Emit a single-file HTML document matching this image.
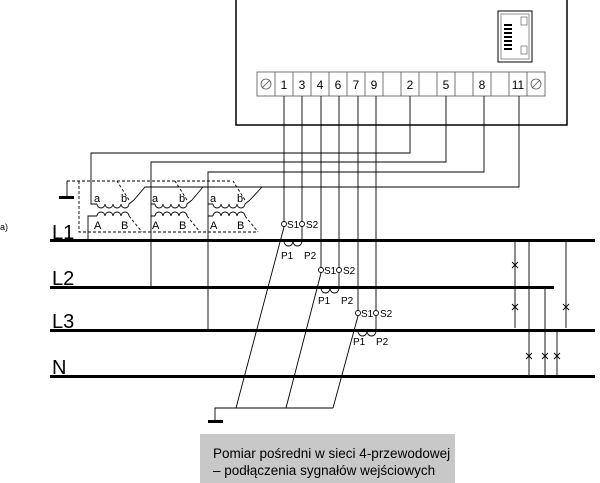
<!DOCTYPE html>
<html><head><meta charset="utf-8"><style>
html,body{margin:0;padding:0;background:#fff}
svg{display:block}
text{font-family:"Liberation Sans",sans-serif;fill:#000}
</style></head><body>
<svg width="600" height="483" viewBox="0 0 600 483" xmlns="http://www.w3.org/2000/svg">
<g stroke="#000" fill="none">
<path d="M236 0 V125 H567 V0" stroke-width="1.5"/>
<rect x="498" y="11" width="34" height="51" stroke-width="1"/>
<rect x="501" y="14" width="28" height="45" stroke-width="0.7" stroke="#666"/>
<rect x="521" y="17" width="6" height="8" stroke-width="0.7" stroke="#666"/>
<rect x="521" y="46" width="6" height="8" stroke-width="0.7" stroke="#666"/>
</g>
<g fill="#000">
<rect x="504" y="24" width="8" height="2"/><rect x="504" y="28" width="8" height="2"/><rect x="504" y="32" width="8" height="2"/><rect x="504" y="36" width="8" height="2"/><rect x="504" y="40" width="8" height="2"/><rect x="504" y="44" width="8" height="2"/><rect x="504" y="48" width="8" height="2"/>
</g>
<g stroke="#555" fill="#fff" stroke-width="0.8">
<rect x="257" y="72" width="288" height="24"/>
<path d="M275 72V96M293 72V96M311 72V96M329 72V96M347 72V96M365 72V96M383 72V96M401 72V96M419 72V96M437 72V96M455 72V96M473 72V96M491 72V96M509 72V96M527 72V96"/>
<circle cx="266" cy="84" r="5" fill="none"/><path d="M262 88L270 80"/>
<circle cx="536" cy="84" r="5" fill="none"/><path d="M532 88L540 80"/>
</g>
<g font-size="12" text-anchor="middle" fill="#222">
<text x="284" y="89">1</text><text x="302" y="89">3</text><text x="320" y="89">4</text><text x="338" y="89">6</text><text x="356" y="89">7</text><text x="374" y="89">9</text><text x="410" y="89">2</text><text x="446" y="89">5</text><text x="482" y="89">8</text><text x="518" y="89">11</text>
</g>
<g stroke="#000" fill="none" stroke-width="0.9">
<path d="M284 96V221M302 96V221M321 96V267M339 96V267M358 96V310M376 96V310"/>
<path d="M410 96V153H91V204H97"/>
<path d="M446 96V162H151V287"/>
<path d="M484 96V172H208V330"/>
<path d="M519 96V187H145L134 200M203 187L192 200M262 187L250 200"/>
<g id="t">
<path d="M97 204 a4 4 0 0 0 8 0 a4 4 0 0 0 8 0 a4 4 0 0 0 8 0 a4 4 0 0 0 8 0 L134 200"/>
<path d="M97 216 a4 4 0 0 1 8 0 a4 4 0 0 1 8 0 a4 4 0 0 1 8 0 a4 4 0 0 1 8 0"/>
<path d="M129 200 L117 181 M129 216 L142 232" stroke-dasharray="3,2"/>
</g>
<use href="#t" x="58"/>
<use href="#t" x="116"/>
<path d="M97 216H88V240"/>
<path d="M155 216H151M213 216H208M151 204H155M208 204H213"/>
<path d="M67 181H230M79 181V232H258" stroke-dasharray="3,2"/>
<path d="M67 181V197"/>
<path d="M284 241a4.5 5 0 0 0 9 0a4.5 5 0 0 0 9 0"/>
<path d="M321 288a4.5 5 0 0 0 9 0a4.5 5 0 0 0 9 0"/>
<path d="M358 331a4.5 5 0 0 0 9 0a4.5 5 0 0 0 9 0"/>
<path d="M302 227V241M339 273V288M376 316V331"/>
<path d="M284 227L236 408M321 273L286 408M358 316L333 408"/>
<path d="M333 408H215V420"/>
<path d="M515 241V328M529 241V376M545 287V376M557 330V376M566 241V328"/>
</g>
<g fill="#fff" stroke="#000" stroke-width="0.9">
<circle cx="284" cy="224" r="2.5"/><circle cx="302" cy="224" r="2.5"/>
<circle cx="321" cy="270" r="2.5"/><circle cx="339" cy="270" r="2.5"/>
<circle cx="358" cy="313" r="2.5"/><circle cx="376" cy="313" r="2.5"/>
</g>
<g stroke="#000" stroke-width="0.9">
<path d="M512 262l6 6m0-6l-6 6M512 304l6 6m0-6l-6 6M563 304l6 6m0-6l-6 6M526 353l6 6m0-6l-6 6M542 353l6 6m0-6l-6 6M554 353l6 6m0-6l-6 6"/>
</g>
<g fill="#000">
<rect x="50" y="239" width="545" height="3"/>
<rect x="50" y="286" width="504" height="3"/>
<rect x="50" y="329" width="545" height="3"/>
<rect x="50" y="375" width="545" height="3"/>
<rect x="59" y="196" width="15" height="3"/>
<rect x="208" y="420" width="15" height="3"/>
</g>
<g font-size="11">
<text x="94" y="202">a</text><text x="121" y="202">b</text>
<text x="152" y="202">a</text><text x="179" y="202">b</text>
<text x="210" y="202">a</text><text x="237" y="202">b</text>
<text x="94" y="229">A</text><text x="121" y="229">B</text>
<text x="152" y="229">A</text><text x="179" y="229">B</text>
<text x="210" y="229">A</text><text x="237" y="229">B</text>
</g>
<g font-size="10">
<text x="287" y="228">S1</text><text x="306" y="228">S2</text>
<text x="324" y="274">S1</text><text x="343" y="274">S2</text>
<text x="361" y="317">S1</text><text x="380" y="317">S2</text>
<text x="281" y="259">P1</text><text x="304" y="259">P2</text>
<text x="318" y="304">P1</text><text x="341" y="304">P2</text>
<text x="353" y="345">P1</text><text x="376" y="345">P2</text>
<text x="0" y="230" font-size="9">a)</text>
</g>
<g font-size="20">
<text x="52" y="239">L1</text><text x="52" y="285">L2</text><text x="52" y="328">L3</text><text x="52" y="374">N</text>
</g>
<rect x="200" y="434" width="255" height="49" fill="#c8c8c8"/>
<g font-size="13.5" fill="#111">
<text x="213" y="458">Pomiar pośredni w sieci 4-przewodowej</text>
<text x="213" y="475">– podłączenia sygnałów wejściowych</text>
</g>
</svg>
</body></html>
